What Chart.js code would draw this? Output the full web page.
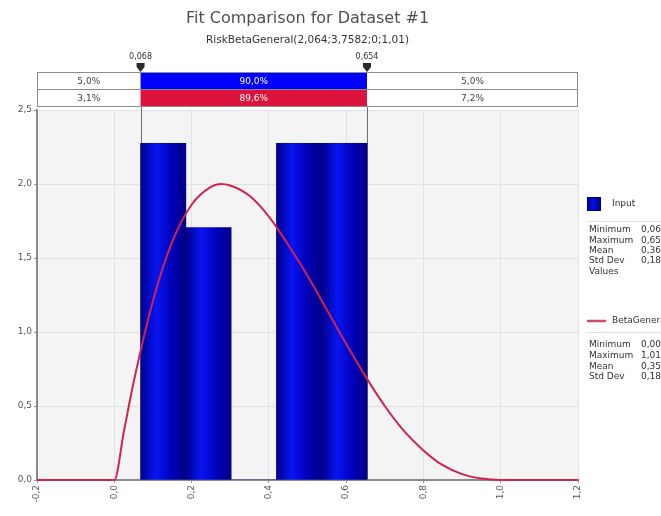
<!DOCTYPE html>
<html>
<head>
<meta charset="utf-8">
<title>Fit Comparison for Dataset #1</title>
<script src="https://cdn.jsdelivr.net/npm/chart.js@4.4.1/dist/chart.umd.min.js"></script>
<style>
  body { margin: 0; background: #fff; }
  canvas { display: block; }
</style>
</head>
<body>
<canvas id="fit-chart" width="661" height="516"></canvas>
<script>
'use strict';

// *************** DATA
// histogram bins of the input (density)
let binStart = [0.068, 0.1852, 0.3024, 0.4196, 0.5368];
let binEnd = [0.1852, 0.3024, 0.4196, 0.5368, 0.654];
let binDensity = [2.275, 1.706, 0, 2.275, 2.275];

// fitted BetaGeneral curve
let curveX = [-0.2, 0, 0.025, 0.05, 0.1, 0.15, 0.2, 0.25, 0.275, 0.3, 0.35, 0.4, 0.45, 0.5, 0.55,
  0.6, 0.65, 0.7, 0.75, 0.8, 0.85, 0.9, 0.95, 1.0, 1.01, 1.2];
let curveY = [0, 0, 0.33, 0.66, 1.21, 1.61, 1.86, 1.98, 2.0, 1.99, 1.92, 1.78, 1.59, 1.38, 1.15,
  0.92, 0.70, 0.50, 0.33, 0.20, 0.10, 0.04, 0.01, 0, 0, 0];

// delimiters and percentages
let delimiters = [0.068, 0.654];
let delimiterLabels = ['0,068', '0,654'];
let inputPct = ['5,0%', '90,0%', '5,0%'];
let fitPct = ['3,1%', '89,6%', '7,2%'];

// legend stats
let inputStats = [['Minimum', '0,0680'], ['Maximum', '0,6540'], ['Mean', '0,3600'], ['Std Dev', '0,1800'], ['Values', '']];
let fitStats = [['Minimum', '0,0000'], ['Maximum', '1,0100'], ['Mean', '0,3581'], ['Std Dev', '0,1849']];

let titleText = 'Fit Comparison for Dataset #1';
let subtitleText = 'RiskBetaGeneral(2,064;3,7582;0;1,01)';

// *************** HELPERS
function commaNum(v, d) {
  if (Math.abs(v) < 1e-9) {
    v = 0;
  }
  return Number(v).toFixed(d).replace('.', ',');
}

function barGradient(context) {
  let chart = context.chart;
  let i = context.dataIndex;
  if (!chart.chartArea || i === undefined) {
    return '#0000c0';
  }
  let xs = chart.scales.x;
  let l = xs.getPixelForValue(binStart[i]);
  let r = xs.getPixelForValue(binEnd[i]);
  let g = chart.ctx.createLinearGradient(l, 0, r, 0);
  g.addColorStop(0, '#00008c');
  g.addColorStop(0.35, '#0814f2');
  g.addColorStop(0.7, '#0000b4');
  g.addColorStop(1, '#000088');
  return g;
}

const FONT = '"DejaVu Sans", "Liberation Sans", sans-serif';

// *************** PLUGIN: background, delimiters, title, legend
let fitDecor = {
  id: 'fitDecor',
  beforeDraw(chart) {
    let c = chart.ctx;
    let a = chart.chartArea;
    c.save();
    c.fillStyle = '#f4f4f4';
    c.fillRect(a.left, a.top, a.right - a.left, a.bottom - a.top);
    c.restore();
  },
  beforeDatasetsDraw(chart) {
    let c = chart.ctx;
    let a = chart.chartArea;
    let xs = chart.scales.x;
    c.save();
    c.strokeStyle = '#6e6e6e';
    c.lineWidth = 1;
    delimiters.forEach(function (d) {
      let px = Math.round(xs.getPixelForValue(d)) + 0.5;
      c.beginPath();
      c.moveTo(px, a.top - 4);
      c.lineTo(px, a.bottom);
      c.stroke();
    });
    c.restore();
  },
  afterDraw(chart) {
    let c = chart.ctx;
    let a = chart.chartArea;
    let xs = chart.scales.x;
    let midX = (a.left + a.right) / 2;
    c.save();

    // title
    c.textAlign = 'center';
    c.textBaseline = 'middle';
    c.fillStyle = '#505050';
    c.font = '16px ' + FONT;
    c.fillText(titleText, midX, 19);
    c.fillStyle = '#333';
    c.font = '10.5px ' + FONT;
    c.fillText(subtitleText, midX, 40);

    // delimiter rows
    let d1 = xs.getPixelForValue(delimiters[0]);
    let d2 = xs.getPixelForValue(delimiters[1]);
    let rows = [{ y: 72, h: 17, fill: '#0000ff', pct: inputPct },
      { y: 89, h: 17, fill: '#dc143c', pct: fitPct }];
    rows.forEach(function (row) {
      c.fillStyle = '#ffffff';
      c.fillRect(a.left, row.y, a.right - a.left, row.h);
      c.fillStyle = row.fill;
      c.fillRect(d1, row.y, d2 - d1, row.h);
      c.strokeStyle = '#8c8c8c';
      c.lineWidth = 1;
      c.strokeRect(a.left + 0.5, row.y + 0.5, a.right - a.left - 1, row.h);
      c.font = '9px ' + FONT;
      c.fillStyle = '#444';
      c.fillText(row.pct[0], (a.left + d1) / 2, row.y + row.h / 2 + 1);
      c.fillStyle = '#ffffff';
      c.fillText(row.pct[1], (d1 + d2) / 2, row.y + row.h / 2 + 1);
      c.fillStyle = '#444';
      c.fillText(row.pct[2], (d2 + a.right) / 2, row.y + row.h / 2 + 1);
    });

    // delimiter markers and labels
    [d1, d2].forEach(function (px, i) {
      c.fillStyle = '#2a2a2a';
      c.beginPath();
      c.moveTo(px - 4, 63);
      c.lineTo(px + 4, 63);
      c.lineTo(px + 4, 67);
      c.lineTo(px, 72);
      c.lineTo(px - 4, 67);
      c.closePath();
      c.fill();
      c.fillStyle = '#333';
      c.font = '8px ' + FONT;
      c.fillText(delimiterLabels[i], px, 57);
    });

    // legend: Input
    c.textAlign = 'left';
    let lx = 589;
    let vx = 641;
    let sq = c.createLinearGradient(587, 0, 601, 0);
    sq.addColorStop(0, '#000090');
    sq.addColorStop(0.4, '#0010e0');
    sq.addColorStop(1, '#000090');
    c.fillStyle = sq;
    c.fillRect(587, 197, 14, 14);
    c.strokeStyle = '#000070';
    c.strokeRect(587.5, 197.5, 13, 13);
    c.fillStyle = '#333';
    c.font = '9px ' + FONT;
    c.fillText('Input', 612, 204);
    c.strokeStyle = '#e0e0e0';
    c.beginPath();
    c.moveTo(586, 221.5);
    c.lineTo(661, 221.5);
    c.stroke();
    inputStats.forEach(function (s, i) {
      let y = 230 + i * 10.3;
      c.fillText(s[0], lx, y);
      c.fillText(s[1], vx, y);
    });

    // legend: BetaGeneral
    c.strokeStyle = '#d6456a';
    c.lineWidth = 2.5;
    c.beginPath();
    c.moveTo(587, 321);
    c.lineTo(606, 321);
    c.stroke();
    c.fillStyle = '#333';
    c.fillText('BetaGeneral', 612, 321);
    c.strokeStyle = '#e0e0e0';
    c.lineWidth = 1;
    c.beginPath();
    c.moveTo(586, 332.5);
    c.lineTo(661, 332.5);
    c.stroke();
    fitStats.forEach(function (s, i) {
      let y = 345 + i * 10.6;
      c.fillText(s[0], lx, y);
      c.fillText(s[1], vx, y);
    });
    c.restore();
  }
};

// *************** CHART
let histData = binDensity.map(function (v, i) {
  return { x: (binStart[i] + binEnd[i]) / 2, y: v };
});
let curveData = curveX.map(function (x, i) {
  return { x: x, y: curveY[i] };
});

let ctx = document.getElementById('fit-chart').getContext('2d');
let fitChart = new Chart(ctx, { //eslint-disable-line
  type: 'bar',
  data: {
    datasets: [{
      type: 'line',
      label: 'BetaGeneral',
      data: curveData,
      borderColor: '#d0234e',
      borderWidth: 2,
      pointRadius: 0,
      cubicInterpolationMode: 'monotone',
      clip: 4,
      order: 0
    },
    {
      label: 'Input',
      data: histData,
      backgroundColor: barGradient,
      borderWidth: 0,
      barPercentage: 1,
      categoryPercentage: 1,
      order: 1
    }]
  },
  options: {
    responsive: false,
    animation: false,
    layout: { padding: { left: 0, right: 83, top: 110, bottom: 0 } },
    plugins: {
      legend: { display: false },
      title: { display: false },
      tooltip: { enabled: false }
    },
    scales: {
      x: {
        type: 'linear',
        min: -0.2,
        max: 1.2,
        offset: false,
        afterFit: function (scale) { scale.height = 36; },
        ticks: {
          stepSize: 0.2,
          minRotation: 90,
          maxRotation: 90,
          padding: 2,
          color: '#555',
          font: { size: 9, family: FONT },
          callback: function (v) { return commaNum(v, 1); }
        },
        grid: { offset: false, color: '#e2e2e2', tickColor: '#999', tickLength: 3 },
        border: { color: '#8a8a8a', width: 2 }
      },
      y: {
        min: 0,
        max: 2.5,
        afterFit: function (scale) { scale.width = 37; },
        ticks: {
          stepSize: 0.5,
          padding: 2,
          color: '#555',
          font: { size: 9, family: FONT },
          callback: function (v) { return commaNum(v, 1); }
        },
        grid: { color: '#e2e2e2', tickColor: '#999', tickLength: 3 },
        border: { color: '#8a8a8a', width: 2 }
      }
    }
  },
  plugins: [fitDecor]
});
</script>
</body>
</html>
